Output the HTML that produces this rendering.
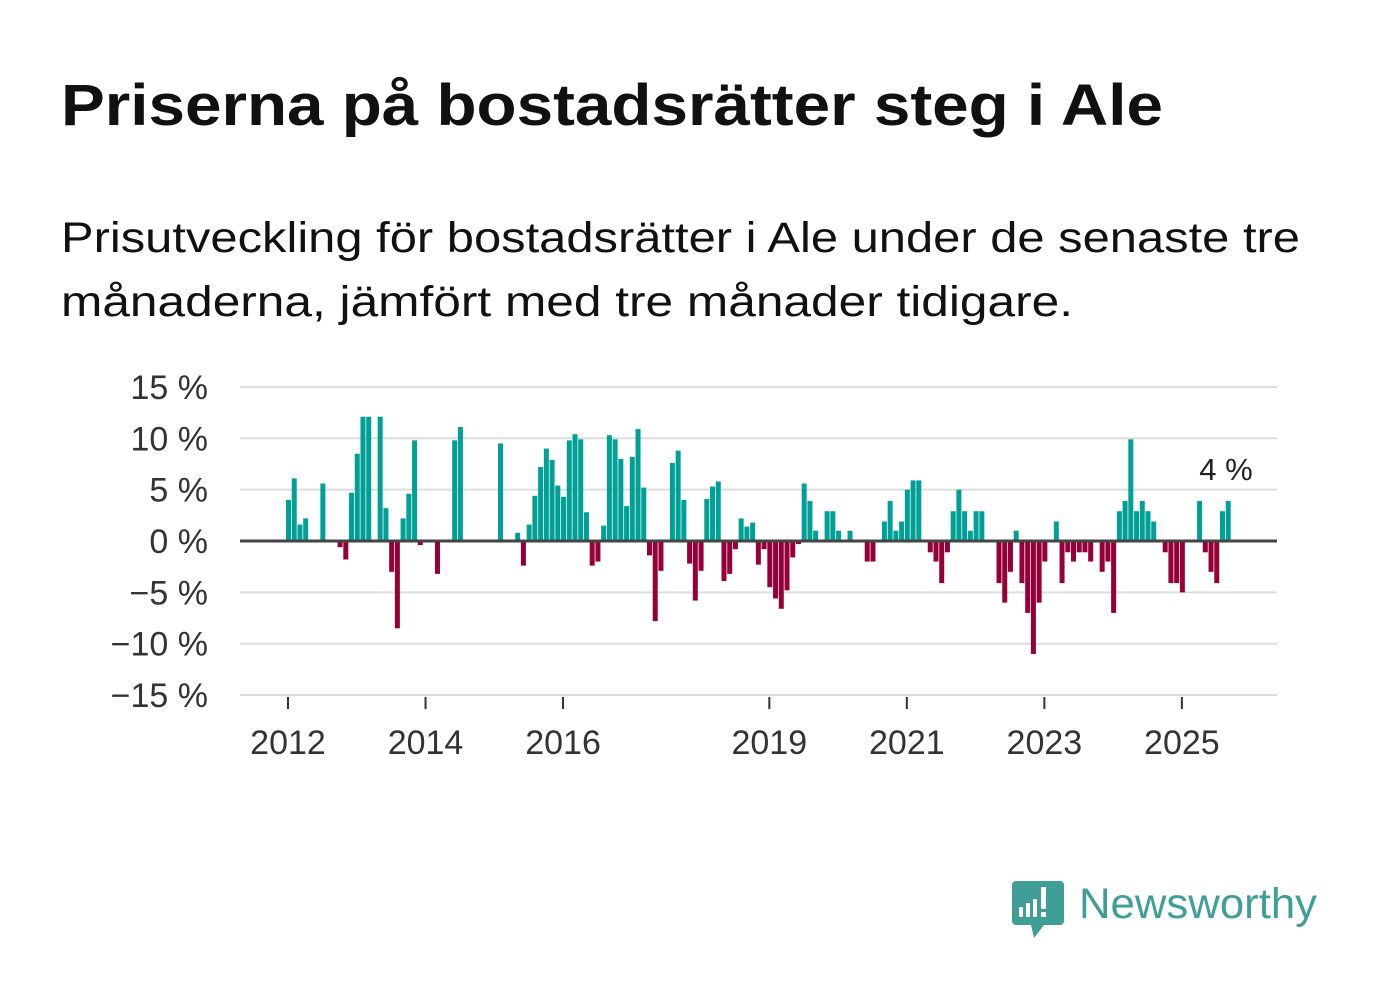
<!DOCTYPE html>
<html><head><meta charset="utf-8">
<style>
html,body{margin:0;padding:0;background:#fff;width:1382px;height:999px;overflow:hidden;font-family:"Liberation Sans",sans-serif;}
</style></head>
<body>
<svg id="chart" width="1382" height="999" viewBox="0 0 1382 999" xmlns="http://www.w3.org/2000/svg">
<text x="61" y="125" font-size="58" font-weight="bold" fill="#111" font-family="Liberation Sans, sans-serif" textLength="1102" lengthAdjust="spacingAndGlyphs">Priserna på bostadsrätter steg i Ale</text>
<text x="61" y="252" font-size="43" fill="#111" font-family="Liberation Sans, sans-serif" textLength="1239" lengthAdjust="spacingAndGlyphs">Prisutveckling för bostadsrätter i Ale under de senaste tre</text>
<text x="61" y="316" font-size="43" fill="#111" font-family="Liberation Sans, sans-serif" textLength="1012" lengthAdjust="spacingAndGlyphs">månaderna, jämfört med tre månader tidigare.</text>
<g id="grid"></g>
<g id="bars"></g>
<g id="xaxis"></g>
<text x="1226" y="480" font-size="31" fill="#222" text-anchor="middle" font-family="Liberation Sans, sans-serif">4 %</text>
<g>
<path d="M1016 881 h44 a4 4 0 0 1 4 4 v36 a4 4 0 0 1 -4 4 h-16 l-10 13 l-3 -13 h-15 a4 4 0 0 1 -4 -4 v-36 a4 4 0 0 1 4 -4z" fill="#3f9e96"/>
<rect x="1019" y="907" width="4" height="10" fill="#fff"/>
<rect x="1026" y="903" width="4" height="14" fill="#fff"/>
<rect x="1033" y="899" width="4" height="18" fill="#fff"/>
<rect x="1041" y="887" width="5" height="22" fill="#fff"/>
<rect x="1041" y="912" width="5" height="5" fill="#fff"/>
<text x="1079" y="918" font-size="43" fill="#3f9e96" font-family="Liberation Sans, sans-serif" textLength="238" lengthAdjust="spacingAndGlyphs">Newsworthy</text>
</g>
</svg>
<script>
const yTicks = [15, 10, 5, 0, -5, -10, -15];
const yTickLabels = ["15 %", "10 %", "5 %", "0 %", "\u22125 %", "\u221210 %", "\u221215 %"];
const xTickYears = [2012, 2014, 2016, 2019, 2021, 2023, 2025];
const startYear = 2012;
const values = [4.0,6.1,1.6,2.2,0,0,5.6,0,0,-0.6,-1.8,4.7,8.5,12.1,12.1,0,12.1,3.2,-3.0,-8.5,2.2,4.6,9.8,-0.4,0,0,-3.2,0,0,9.8,11.1,0,0,0,0,0,0,9.5,0,0,0.8,-2.4,1.6,4.4,7.2,9.0,7.9,5.4,4.3,9.8,10.4,9.9,2.8,-2.4,-2.0,1.5,10.3,9.9,8.0,3.4,8.2,10.9,5.2,-1.4,-7.8,-2.9,0,7.6,8.8,4.0,-2.2,-5.8,-2.9,4.1,5.3,5.8,-3.9,-3.2,-0.8,2.2,1.4,1.8,-2.3,-0.8,-4.5,-5.6,-6.6,-4.8,-1.6,-0.3,5.6,3.9,1.0,0,2.9,2.9,1.0,0,1.0,0,0,-2.0,-2.0,0,1.9,3.9,1.0,1.9,5.0,5.9,5.9,0,-1.1,-2.0,-4.1,-1.1,2.9,5.0,2.9,1.0,2.9,2.9,0,0,-4.1,-6.0,-3.0,1.0,-4.1,-7.0,-11.0,-6.0,-2.0,0,1.9,-4.1,-1.1,-2.0,-1.1,-1.1,-2.0,0,-3.0,-2.0,-7.0,2.9,3.9,9.9,2.9,3.9,2.9,1.9,0,-1.1,-4.1,-4.1,-5.0,0,0,3.9,-1.1,-3.0,-4.1,2.9,3.9];

const NS = "http://www.w3.org/2000/svg";
const plotL = 240, plotR = 1277;
function yScale(v){ return 541 - v * 10.27; }
function xScale(monthIdx){ return 288.5 + monthIdx * 5.73; }

const grid = document.getElementById('grid');
yTicks.forEach((t, i) => {
  const ln = document.createElementNS(NS, 'line');
  ln.setAttribute('x1', plotL); ln.setAttribute('x2', plotR);
  ln.setAttribute('y1', yScale(t)); ln.setAttribute('y2', yScale(t));
  ln.setAttribute('stroke', t === 0 ? '#444' : '#ddd');
  ln.setAttribute('stroke-width', t === 0 ? 3 : 2);
  
  
  grid.appendChild(ln);
  const tx = document.createElementNS(NS, 'text');
  tx.setAttribute('x', 208); tx.setAttribute('y', yScale(t) + 12);
  tx.setAttribute('text-anchor', 'end'); tx.setAttribute('font-size', '34');
  tx.setAttribute('fill', '#333'); tx.setAttribute('font-family', 'Liberation Sans, sans-serif');
  tx.textContent = yTickLabels[i];
  
  
  grid.appendChild(tx);
});

const bars = document.getElementById('bars');
values.forEach((v, i) => {
  if (!v) return;
  const r = document.createElementNS(NS, 'rect');
  const y0 = yScale(0), y1 = yScale(v);
  r.setAttribute('x', xScale(i) - 2.5);
  r.setAttribute('width', 5);
  r.setAttribute('y', Math.min(y0, y1));
  r.setAttribute('height', Math.abs(y1 - y0));
  r.setAttribute('fill', v > 0 ? '#00a096' : '#960038');
  
  
  bars.appendChild(r);
});
const zl = document.createElementNS(NS, 'line');
zl.setAttribute('x1', plotL); zl.setAttribute('x2', plotR);
zl.setAttribute('y1', yScale(0)); zl.setAttribute('y2', yScale(0));
zl.setAttribute('stroke', '#444'); zl.setAttribute('stroke-width', 3);


bars.appendChild(zl);

const xaxis = document.getElementById('xaxis');
xTickYears.forEach(yr => {
  const x = 288 + (yr - startYear) * 12 * 5.73;
  const tk = document.createElementNS(NS, 'line');
  tk.setAttribute('x1', x); tk.setAttribute('x2', x);
  tk.setAttribute('y1', 697); tk.setAttribute('y2', 709);
  tk.setAttribute('stroke', '#333'); tk.setAttribute('stroke-width', 2);
  
  
  xaxis.appendChild(tk);
  const tx = document.createElementNS(NS, 'text');
  tx.setAttribute('x', x); tx.setAttribute('y', 754);
  tx.setAttribute('text-anchor', 'middle'); tx.setAttribute('font-size', '34');
  tx.setAttribute('fill', '#333'); tx.setAttribute('font-family', 'Liberation Sans, sans-serif');
  tx.textContent = yr;
  
  
  xaxis.appendChild(tx);
});
</script>
</body></html>
